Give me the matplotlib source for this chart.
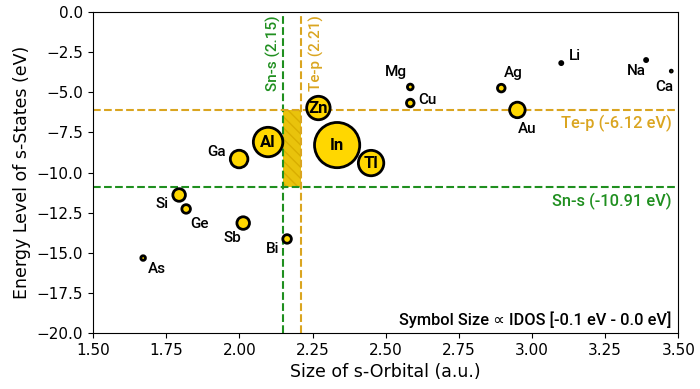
import matplotlib.pyplot as plt

# Data
elements = ['Li', 'Na', 'Ca', 'Mg', 'Cu', 'Ag', 'Au', 'Zn', 'In', 'Tl', 'Al',
            'Ga', 'Si', 'Ge', 'Sb', 'Bi', 'As']
orbital_size = [3.10, 3.39, 3.476, 2.584, 2.584, 2.895, 2.95, 2.27, 2.334, 2.45,
                2.098, 1.999, 1.794, 1.818, 2.013, 2.163, 1.671]
s_energy = [-3.18, -2.99, -3.68, -4.67, -5.67, -4.74, -6.10, -5.98, -8.29, -9.41,
            -8.10, -9.16, -11.40, -12.27, -13.15, -14.14, -15.33]
idos = [0.005, 0.005, 0.002, 0.017, 0.030, 0.030, 0.125, 0.285, 1.06, 0.335,
        0.45, 0.16, 0.082, 0.038, 0.082, 0.038, 0.011]

# label positions (elements labelled beside their symbol)
side_labels = {'Li': (3.148, -2.74), 'Na': (3.356, -3.68), 'Ca': (3.452, -4.67),
               'Mg': (2.536, -3.74), 'Cu': (2.642, -5.48), 'Ag': (2.936, -3.80),
               'Au': (2.984, -7.29), 'Ga': (1.921, -8.72), 'Si': (1.736, -11.96),
               'Ge': (1.862, -13.21), 'Sb': (1.975, -14.08), 'Bi': (2.115, -14.77),
               'As': (1.719, -16.01)}
inside_labels = ['Zn', 'In', 'Tl', 'Al']

sn_s_size, te_p_size = 2.15, 2.21
sn_s_level, te_p_level = -10.91, -6.12

green = '#1f8f1f'
orange = '#daa520'
lab_font = ['Roboto', 'DejaVu Sans']

fig = plt.figure(figsize=(7, 3.89), dpi=100)
ax = fig.add_axes([0.133, 0.144, 0.836, 0.825])

ax.fill_between([sn_s_size, te_p_size], sn_s_level, te_p_level,
                color='#e9c30c', hatch='\\\\\\', edgecolor='#d9ae00', linewidth=0, zorder=1)
ax.axvline(sn_s_size, color=green, ls='--', lw=1.5, zorder=2)
ax.axvline(te_p_size, color=orange, ls='--', lw=1.5, zorder=2)
ax.axhline(te_p_level, color=orange, ls='--', lw=1.5, zorder=2)
ax.axhline(sn_s_level, color=green, ls='--', lw=1.5, zorder=2)

ax.scatter(orbital_size, s_energy, s=[v * 1000 for v in idos], c='#ffd700',
           edgecolors='black', linewidths=2.0, zorder=3)

for name, x, y in zip(elements, orbital_size, s_energy):
    if name in inside_labels:
        ax.text(x, y, name, ha='center', va='center', fontsize=12, fontweight='bold',
                family=lab_font, zorder=4)
    else:
        lx, ly = side_labels[name]
        ax.text(lx, ly, name, ha='center', va='center', fontsize=11, fontweight='medium',
                family=lab_font, zorder=4)

ax.text(2.115, -0.2, 'Sn-s (2.15)', rotation=90, ha='center', va='top', color=green,
        fontsize=11, fontweight='medium', family=lab_font)
ax.text(2.263, -0.2, 'Te-p (2.21)', rotation=90, ha='center', va='top', color=orange,
        fontsize=11, fontweight='medium', family=lab_font)
ax.text(3.476, -6.92, 'Te-p (-6.12 eV)', ha='right', va='center', color=orange,
        fontsize=11.8, fontweight='medium', family=lab_font)
ax.text(3.476, -11.78, 'Sn-s (-10.91 eV)', ha='right', va='center', color=green,
        fontsize=11.8, fontweight='medium', family=lab_font)
ax.text(3.476, -19.2, 'Symbol Size \u221d IDOS [-0.1 eV - 0.0 eV]', ha='right', va='center',
        fontsize=11.8, fontweight='medium', family=lab_font)

ax.set_xlim(1.5, 3.5)
ax.set_ylim(-20, 0)
ax.set_xticks([1.5, 1.75, 2.0, 2.25, 2.5, 2.75, 3.0, 3.25, 3.5])
ax.set_xlabel('Size of s-Orbital (a.u.)', fontsize=12.5)
ax.set_ylabel('Energy Level of s-States (eV)', fontsize=12.5)
ax.tick_params(labelsize=11)

fig.savefig('out.png', dpi=100)
